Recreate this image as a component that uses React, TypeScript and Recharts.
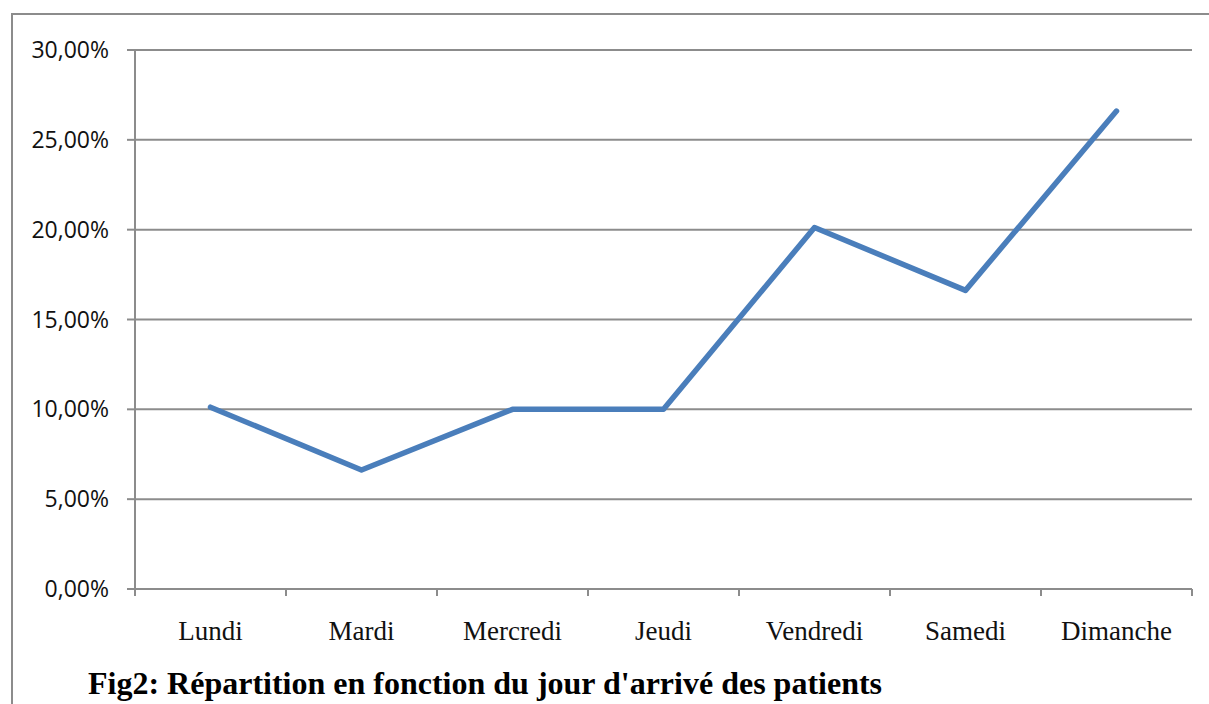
import { LineChart, Line, XAxis, YAxis, CartesianGrid } from 'recharts'

const DAYS = ['Lundi', 'Mardi', 'Mercredi', 'Jeudi', 'Vendredi', 'Samedi', 'Dimanche']
const SHARE = [10.12, 6.62, 10.0, 10.0, 20.12, 16.62, 26.6]
const Y_TICKS = [0, 5, 10, 15, 20, 25, 30]

const GRAY = '#8c8c8c'

const data = DAYS.map((day, i) => ({ day, share: SHARE[i] }))

const fmtPct = (v: number) => v.toFixed(2).replace('.', ',') + '%'

// Excel-style category ticks: marks on the band edges, label in the middle
function DayTick(props: any) {
  const { x, y, payload, index } = props
  const half = payload?.offset ?? 0
  const last = index === DAYS.length - 1
  return (
    <g>
      <line x1={x - half} y1={y} x2={x - half} y2={y + 7} stroke={GRAY} strokeWidth={2} />
      {last && <line x1={x + half} y1={y} x2={x + half} y2={y + 7} stroke={GRAY} strokeWidth={2} />}
      <text
        x={x}
        y={y + 51}
        textAnchor="middle"
        fill="#111"
        fontFamily="'Liberation Serif', serif"
        fontSize={27}
      >
        {payload.value}
      </text>
    </g>
  )
}

export default function App() {
  return (
    <div style={{ position: 'absolute', left: 0, top: 0, width: 1209, height: 704, overflow: 'hidden', background: '#fff' }}>
      <div
        style={{
          position: 'absolute',
          left: 11,
          top: 13,
          width: 1400,
          height: 900,
          borderLeft: `2px solid ${GRAY}`,
          borderTop: `2px solid ${GRAY}`,
        }}
      />
      <div style={{ position: 'absolute', left: 0, top: 0 }}>
        <LineChart width={1209} height={704} data={data} margin={{ top: 50, right: 17, bottom: 0, left: 0 }}>
          <CartesianGrid horizontal vertical={false} stroke={GRAY} strokeWidth={2} />
          <XAxis
            dataKey="day"
            scale="band"
            axisLine={{ stroke: GRAY, strokeWidth: 2 }}
            tickLine={false}
            tickSize={0}
            tickMargin={0}
            tick={<DayTick />}
            interval={0}
            height={115}
          />
          <YAxis
            domain={[0, 30]}
            ticks={Y_TICKS}
            tickFormatter={fmtPct}
            width={135}
            axisLine={{ stroke: GRAY, strokeWidth: 2 }}
            tickLine={{ stroke: GRAY, strokeWidth: 2 }}
            tickSize={8}
            tickMargin={18}
            tick={{ fill: '#111', fontSize: 23, fontFamily: "'Open Sans', sans-serif" }}
          />
          <Line
            type="linear"
            dataKey="share"
            stroke="#4a7ebb"
            strokeWidth={5.5}
            strokeLinecap="round"
            strokeLinejoin="round"
            dot={false}
            isAnimationActive={false}
          />
        </LineChart>
      </div>
      <div
        style={{
          position: 'absolute',
          left: 88,
          top: 667,
          fontFamily: "'Liberation Serif', serif",
          fontWeight: 'bold',
          fontSize: 32,
          lineHeight: '32px',
          color: '#000',
          whiteSpace: 'nowrap',
        }}
      >
        Fig2: Répartition en fonction du jour d'arrivé des patients
      </div>
    </div>
  )
}
